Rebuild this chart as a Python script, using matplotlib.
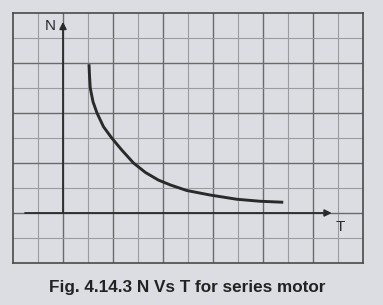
import numpy as np
import matplotlib
matplotlib.use("Agg")
import matplotlib.pyplot as plt

# N vs T for a series motor (one cell = 1 unit)
torque = [1.04, 1.06, 1.09, 1.2, 1.36, 1.62, 1.95, 2.35, 2.82, 3.3, 3.81,
          4.3, 4.95, 5.88, 6.95, 7.88, 8.81]
speed = [5.95, 5.5, 5.0, 4.45, 4.0, 3.45, 3.0, 2.52, 2.0, 1.62, 1.32,
         1.12, 0.9, 0.72, 0.55, 0.47, 0.43]

caption = "Fig. 4.14.3 N Vs T for series motor"

bg = "#dcdde3"
fig = plt.figure(figsize=(3.83, 3.05), dpi=100, facecolor=bg)
ax = fig.add_axes([13/383, 42/305, 350/383, 250/305])
ax.set_facecolor(bg)
ax.set_xlim(-2, 12)
ax.set_ylim(-2, 8)

# graph paper grid, darker line every second cell
for v in range(-1, 12):
    ax.axvline(v, color="#6a6a6a" if v % 2 == 0 else "#9c9ca0",
               lw=1.0 if v % 2 == 0 else 0.8, zorder=1)
for v in range(-1, 8):
    ax.axhline(v, color="#6a6a6a" if v % 2 == 0 else "#9c9ca0",
               lw=1.0 if v % 2 == 0 else 0.8, zorder=1)
for s in ax.spines.values():
    s.set_color("#4a4a4a")
    s.set_linewidth(1.2)
ax.set_xticks([])
ax.set_yticks([])

# axes with arrows
ax.annotate("", xy=(10.75, 0), xytext=(-1.52, 0),
            arrowprops=dict(arrowstyle="-|>", color="#2a2a2a", lw=1.3,
                            mutation_scale=10, shrinkA=0, shrinkB=0), zorder=3)
ax.annotate("", xy=(0, 7.65), xytext=(0, 0),
            arrowprops=dict(arrowstyle="-|>", color="#2a2a2a", lw=1.3,
                            mutation_scale=10, shrinkA=0, shrinkB=0), zorder=3)
ax.text(-0.5, 7.5, "N", fontsize=11, ha="center", va="center",
        color="#2a2a2a", family="Liberation Sans")
ax.text(11.1, -0.55, "T", fontsize=11, ha="center", va="center",
        color="#2a2a2a", family="Liberation Sans")

ax.plot(torque, speed, color="#2a2a2a", lw=2.1, solid_capstyle="butt",
        solid_joinstyle="round", zorder=4)

fig.text(0.49, 0.056, caption, fontsize=12.3, fontweight="bold",
         ha="center", va="center", color="#222222", family="Liberation Sans")

fig.savefig("out.png", dpi=100, facecolor=bg)
